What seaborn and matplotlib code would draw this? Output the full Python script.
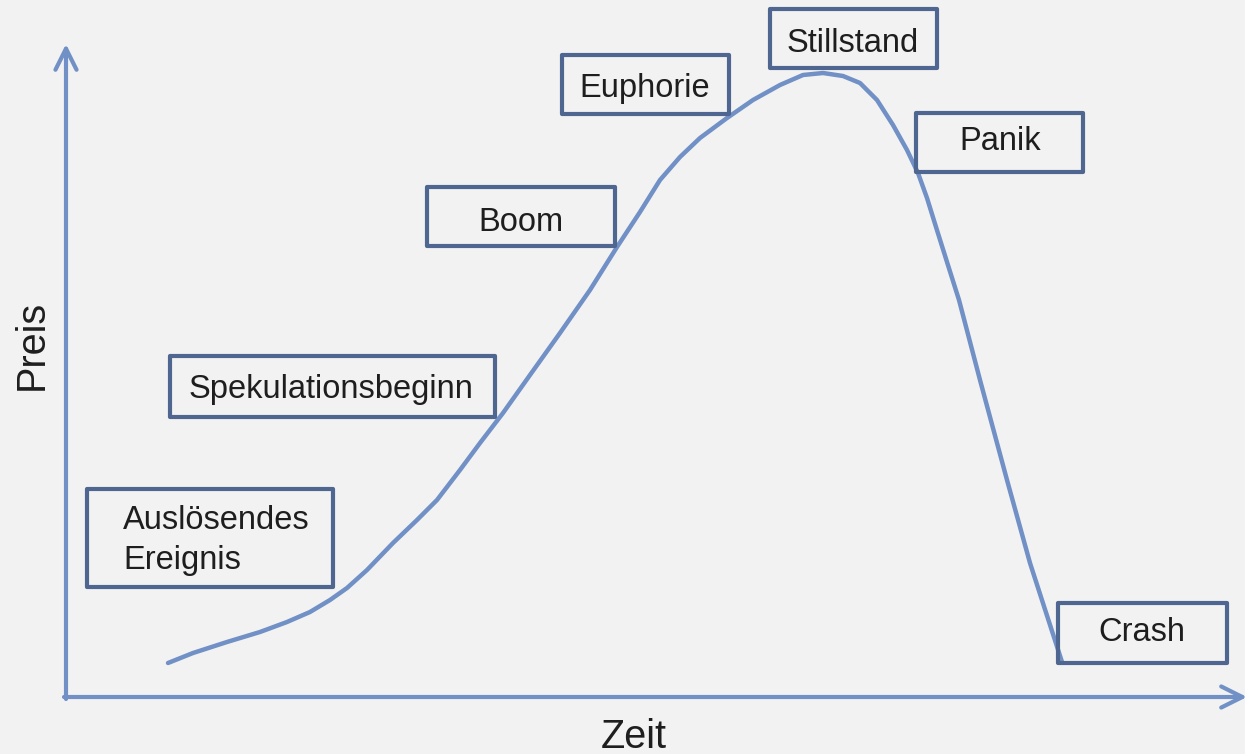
import matplotlib
matplotlib.use("Agg")
import matplotlib.pyplot as plt
from matplotlib.patches import Rectangle
import seaborn as sns
import pandas as pd

# ---- data ----
zeit = [168, 193, 227, 260, 287, 310, 330, 347, 367, 393, 417, 437, 460, 480,
        503, 530, 560, 590, 617, 640, 660, 680, 700, 727, 753, 780, 803, 823,
        843, 860, 877, 893, 907, 918, 927, 936, 947, 959, 980, 1007, 1030, 1062]
preis = [91, 101, 112, 122, 132, 142, 154, 166, 184, 211, 234, 254, 284, 311,
         341, 379, 421, 464, 507, 542, 574, 597, 616, 636, 654, 669, 679, 681,
         678, 671, 654, 629, 604, 581, 556, 527, 492, 454, 374, 274, 191, 92]
phasen = ["Auslösendes\nEreignis", "Spekulationsbeginn", "Boom", "Euphorie",
          "Stillstand", "Panik", "Crash"]
x_label = "Zeit"
y_label = "Preis"

# ---- layout (pixel-based canvas 1245 x 754) ----
W, H = 1245, 754
def Y(p):
    return H - p

# boxes: left, top, right, bottom (pixels), text anchor x, baseline y, ha
box_layout = [
    (87, 489, 333, 587, 123, 529, "left"),
    (170, 356, 495, 417, 331, 398, "center"),
    (427, 187, 615, 246, 521, 231, "center"),
    (562, 55, 729, 114, 645, 97, "center"),
    (770, 9, 937, 68, 853, 52, "center"),
    (916, 113, 1083, 172, 1000, 150, "center"),
    (1058, 603, 1227, 663, 1142, 641, "center"),
]

BG = "#F2F2F2"
LINE = "#7190C6"
BOX = "#4E6690"
TXT = "#1E1E1E"

sns.set_style("white", {"axes.facecolor": BG, "figure.facecolor": BG})
plt.rcParams["font.family"] = ["Liberation Sans", "DejaVu Sans"]

fig = plt.figure(figsize=(W / 100, H / 100), dpi=100, facecolor=BG)
ax = fig.add_axes([0, 0, 1, 1])
ax.set_xlim(0, W)
ax.set_ylim(0, H)
ax.axis("off")

df = pd.DataFrame({"Zeit": zeit, "Preis": preis})
sns.lineplot(data=df, x="Zeit", y="Preis", sort=False, ax=ax, color=LINE,
             linewidth=3.2, solid_capstyle="round", solid_joinstyle="round",
             legend=False, zorder=2)

# axis arrows
arrow = dict(arrowstyle="->", lw=3.0, color=LINE, mutation_scale=38,
             shrinkA=0, shrinkB=0, capstyle="round", joinstyle="round")
ax.annotate("", xy=(66, Y(44)), xytext=(66, Y(699)), arrowprops=arrow)
ax.annotate("", xy=(1247, Y(697)), xytext=(64, Y(697)), arrowprops=arrow,
            annotation_clip=False)

# phase boxes
for label, (l, t, r, b, tx, ty, ha) in zip(phasen, box_layout):
    ax.add_patch(Rectangle((l, Y(b)), r - l, b - t, facecolor="none",
                           edgecolor=BOX, linewidth=3.0, zorder=3,
                           joinstyle="round"))
    lines = label.split("\n")
    for i, ln in enumerate(lines):
        ax.text(tx, Y(ty + i * 40), ln, ha=ha, va="baseline", fontsize=23.5,
                color=TXT, zorder=4)

ax.text(634, Y(748), x_label, ha="center", va="baseline", fontsize=28.5,
        color=TXT)
ax.text(32, Y(345), y_label, ha="center", va="center", rotation=90,
        fontsize=28.5, color=TXT)

fig.savefig("out.png", dpi=100, facecolor=BG)
